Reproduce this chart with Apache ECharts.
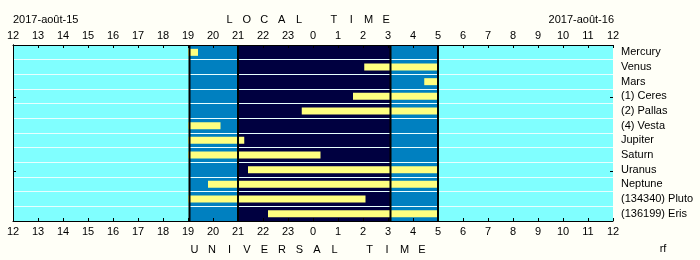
<!DOCTYPE html>
<html><head><meta charset="utf-8">
<script src="https://cdn.jsdelivr.net/npm/echarts@6/dist/echarts.min.js"></script>
<style>html,body{margin:0;padding:0;background:#FFFFF7;} #c{width:700px;height:260px;}</style>
</head><body><div id="c"></div>
<script>
// Objects (rows, top to bottom)
const categories = ['Mercury','Venus','Mars','(1) Ceres','(2) Pallas','(4) Vesta','Jupiter','Saturn','Uranus','Neptune','(134340) Pluto','(136199) Eris'];
// visibility window, hours counted from 12:00 on 2017-août-15
const visStart = [7.0, 14.05, 16.45, 13.6, 11.55, 7.0, 7.0, 7.0, 9.4, 7.8, 7.0, 10.2];
const visEnd   = [7.4, 17.0, 17.0, 17.0, 17.0, 8.3, 9.25, 12.3, 17.0, 17.0, 14.1, 17.0];
// sky bands: day / twilight / night
const bandStart = [0, 7.06, 9.0, 15.1, 17.0];
const bandEnd   = [7.06, 9.0, 15.1, 17.0, 24];
const bandKind  = ['day','twilight','night','twilight','day'];
const boundaries = [7.06, 9.0, 15.1, 17.0];
// rows carrying a side tick mark
const sideTickRows = [3, 8];
// tick labels
const tickLabels = ['12','13','14','15','16','17','18','19','20','21','22','23','0','1','2','3','4','5','6','7','8','9','10','11','12'];
const dateLeft = '2017-août-15';
const dateRight = '2017-août-16';
const topTitle = 'LOCAL TIME';
const bottomTitle = 'UNIVERSAL TIME';

const bandColor = {day:'#80FFFF', twilight:'#0080C0', night:'#000040'};
const FONT = 'Liberation Sans, Arial, sans-serif';
const chart = echarts.init(document.getElementById('c'), null, {renderer:'canvas'});

function spaced(str, x0, step, y) {
  return str.split('').map((ch, i) => ({
    type:'text', x: x0 + i*step, y: y, silent:true,
    style:{text: ch, fill:'#000', font:'11px ' + FONT, textAlign:'center', textVerticalAlign:'middle'}
  }));
}

const graphics = [].concat(
  spaced(topTitle, 229.5, 17.4, 20),
  spaced(bottomTitle, 194.5, 17.5, 250),
  [
    {type:'text', x:13, y:20, silent:true, style:{text:dateLeft, fill:'#000', font:'11px '+FONT, textAlign:'left', textVerticalAlign:'middle'}},
    {type:'text', x:614, y:20, silent:true, style:{text:dateRight, fill:'#000', font:'11px '+FONT, textAlign:'right', textVerticalAlign:'middle'}},
    {type:'text', x:663, y:249, silent:true, style:{text:'rf', fill:'#000', font:'11px '+FONT, textAlign:'center', textVerticalAlign:'middle'}}
  ]
);

const xCommon = {
  type:'value', min:0, max:24, interval:1, z:5,
  axisLine:{show:true, lineStyle:{color:'#000', width:1}},
  axisTick:{show:true, inside:true, length:3, lineStyle:{color:'#000'}},
  splitLine:{show:false},
  axisLabel:{color:'#000', fontSize:11, fontFamily:FONT, formatter: v => tickLabels[v]}
};

const option = {
  animation:false,
  backgroundColor:'#FFFFF7',
  grid:{left:13, right:87, top:45, bottom:39},
  graphic: graphics,
  xAxis:[
    Object.assign({}, xCommon, {position:'bottom', axisLabel: Object.assign({}, xCommon.axisLabel, {margin:5})}),
    Object.assign({}, xCommon, {position:'top', axisLabel: Object.assign({}, xCommon.axisLabel, {margin:4})})
  ],
  yAxis:[
    {type:'category', data:categories, inverse:true, position:'right', z:5,
     axisLine:{show:true, lineStyle:{color:'#000', width:1}},
     axisTick:{show:false},
     splitLine:{show:false},
     axisLabel:{color:'#000', fontSize:11, fontFamily:FONT, align:'left', margin:8, interval:0, padding:[3,0,0,0]}},
    {type:'category', data:categories, inverse:true, position:'left', z:2,
     axisLine:{show:true, lineStyle:{color:'#000', width:1}},
     axisTick:{show:false}, axisLabel:{show:false},
     splitLine:{show:true, interval:0, lineStyle:{color:'#E8FFFF', width:1}}}
  ],
  series:[
    {type:'custom', z:1, silent:true, xAxisIndex:0, yAxisIndex:0,
     encode:{x:[0,1]},
     data: bandStart.map((s,i)=>[s, bandEnd[i], i]),
     renderItem:(params, api)=>{
       const cs = params.coordSys;
       const x0 = api.coord([api.value(0), 0])[0];
       const x1 = api.coord([api.value(1), 0])[0];
       return {type:'rect', shape:{x:x0, y:cs.y, width:x1-x0, height:cs.height},
               style:{fill: bandColor[bandKind[api.value(2)]]}};
     }},
    {type:'bar', stack:'vis', z:3, silent:true, barWidth:7, xAxisIndex:0, yAxisIndex:0,
     itemStyle:{color:'rgba(0,0,0,0)'}, data: visStart},
    {type:'bar', stack:'vis', z:3, silent:true, barWidth:7, xAxisIndex:0, yAxisIndex:0,
     itemStyle:{color:'#FFFF80'}, data: visEnd.map((e,i)=> +(e - visStart[i]).toFixed(3))},
    {type:'custom', z:4, silent:true, xAxisIndex:0, yAxisIndex:0,
     encode:{x:0},
     data: boundaries.map(b=>[b]),
     renderItem:(params, api)=>{
       const cs = params.coordSys;
       const x = api.coord([api.value(0), 0])[0];
       return {type:'line', shape:{x1:x, y1:cs.y, x2:x, y2:cs.y+cs.height},
               style:{stroke:'#000', lineWidth:2}};
     }},
    {type:'custom', z:6, silent:true, xAxisIndex:0, yAxisIndex:0,
     encode:{x:-1, y:0},
     data: sideTickRows.map(r=>[r]),
     renderItem:(params, api)=>{
       const cs = params.coordSys;
       const y = Math.round(api.coord([0, api.value(0)])[1]) + 1.5;
       return {type:'group', children:[
         {type:'line', shape:{x1:cs.x, y1:y, x2:cs.x+3, y2:y}, style:{stroke:'#000', lineWidth:1}},
         {type:'line', shape:{x1:cs.x+cs.width-3, y1:y, x2:cs.x+cs.width, y2:y}, style:{stroke:'#000', lineWidth:1}}
       ]};
     }}
  ]
};
chart.setOption(option);
</script></body></html>
